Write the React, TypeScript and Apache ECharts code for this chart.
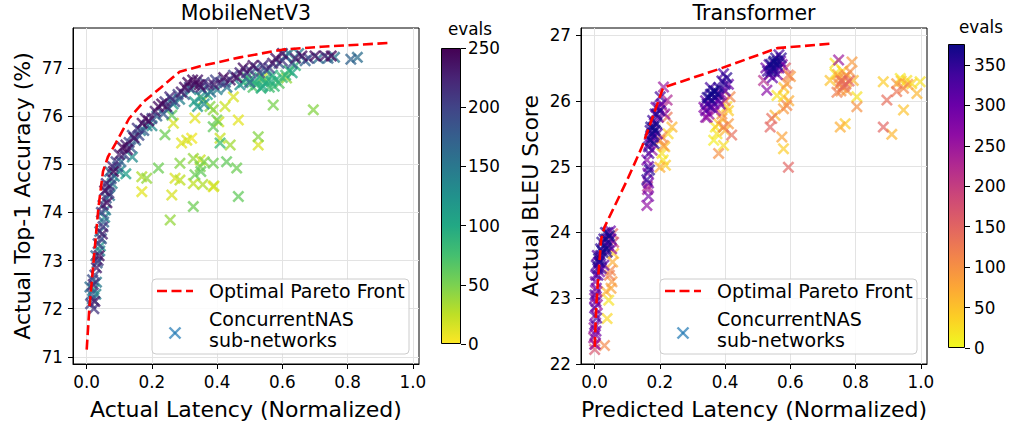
import React, { useEffect, useRef } from 'react';
import * as echarts from 'echarts';

// ---------- Data ----------
const xTicks = [0, 0.2, 0.4, 0.6, 0.8, 1.0];
const mbYTicks = [71, 72, 73, 74, 75, 76, 77];
const trYTicks = [22, 23, 24, 25, 26, 27];
const mbBarTicks = [0, 50, 100, 150, 200, 250];
const trBarTicks = [0, 50, 100, 150, 200, 250, 300, 350];
const mbEvalMax = 250;
const trEvalMax = 376;

// MobileNetV3: optimal pareto front [latency, accuracy]
const mbFront = [
  [0, 71.15], [0.008, 72.0], [0.02, 72.9], [0.036, 74.1], [0.05, 74.85], [0.065, 75.15],
  [0.09, 75.45], [0.13, 75.95], [0.175, 76.3], [0.225, 76.58], [0.285, 76.92], [0.35, 77.04],
  [0.47, 77.22], [0.6, 77.38], [0.72, 77.44], [0.93, 77.52],
];

// MobileNetV3 sub-networks [latency, accuracy, evals]
const mbBand = [
  [0.012, 72.1, 200], [0.018, 72.2, 150], [0.015, 72.3, 180], [0.022, 72.4, 120], [0.02, 72.5, 220],
  [0.025, 72.15, 230], [0.01, 72.45, 160], [0.028, 72.3, 140], [0.025, 72.7, 200], [0.03, 72.85, 230],
  [0.035, 73.0, 210], [0.028, 73.1, 170], [0.04, 73.2, 140], [0.035, 73.35, 200], [0.045, 73.45, 190],
  [0.04, 73.6, 160], [0.05, 73.7, 210], [0.055, 73.9, 130], [0.045, 74.0, 200], [0.05, 74.15, 220],
  [0.06, 74.3, 180], [0.055, 74.45, 240], [0.065, 74.5, 200], [0.07, 74.35, 150], [0.06, 74.6, 230],
  [0.075, 74.7, 190], [0.07, 74.85, 160], [0.08, 74.95, 220], [0.09, 75.05, 200], [0.085, 74.75, 140],
  [0.1, 74.85, 130], [0.12, 74.8, 110], [0.1, 75.2, 230], [0.11, 75.35, 245], [0.125, 75.3, 240],
  [0.13, 75.45, 200], [0.14, 75.15, 130], [0.15, 75.5, 170], [0.14, 75.6, 190], [0.155, 75.75, 210],
  [0.17, 75.85, 240], [0.18, 75.95, 235], [0.165, 75.7, 150], [0.185, 75.8, 140], [0.2, 75.95, 200],
  [0.21, 76.1, 230], [0.22, 76.2, 240], [0.235, 76.05, 180], [0.24, 76.3, 210], [0.255, 76.4, 220],
  [0.25, 76.15, 150], [0.27, 76.3, 190], [0.28, 76.45, 200], [0.29, 76.5, 230], [0.3, 76.6, 240],
  [0.31, 76.7, 245], [0.33, 76.65, 240], [0.34, 76.75, 235], [0.32, 76.55, 130], [0.35, 76.6, 220],
  [0.36, 76.7, 200], [0.33, 76.3, 110], [0.35, 76.4, 120], [0.37, 76.45, 100], [0.34, 76.2, 115],
  [0.36, 76.25, 130], [0.38, 76.5, 160], [0.39, 76.65, 230], [0.41, 76.7, 210], [0.42, 76.8, 240],
  [0.43, 76.6, 150], [0.44, 76.75, 230], [0.45, 76.85, 200], [0.47, 76.9, 220], [0.48, 77.0, 240],
  [0.5, 76.95, 210], [0.52, 77.0, 180], [0.54, 77.05, 220], [0.55, 76.95, 160], [0.57, 77.1, 230],
  [0.58, 77.2, 240], [0.6, 77.15, 210], [0.61, 77.25, 160], [0.62, 77.3, 140], [0.64, 77.2, 230],
  [0.66, 77.25, 240], [0.63, 77.1, 180], [0.68, 77.2, 200], [0.71, 77.2, 160], [0.73, 77.25, 230],
  [0.74, 77.2, 170], [0.76, 77.22, 150], [0.81, 77.18, 170], [0.83, 77.22, 160], [0.5, 76.7, 170],
  [0.47, 76.65, 130],
  [0.018, 72.6, 190], [0.022, 72.0, 210], [0.03, 72.55, 150], [0.032, 72.95, 180], [0.038, 73.1, 240],
  [0.042, 73.3, 120], [0.048, 73.55, 230], [0.052, 73.8, 170], [0.058, 74.05, 150], [0.062, 74.2, 240],
  [0.068, 74.4, 210], [0.072, 74.55, 170], [0.078, 74.6, 140], [0.082, 74.85, 245], [0.095, 74.95, 180],
  [0.105, 75.05, 160], [0.115, 75.2, 200], [0.12, 75.4, 230], [0.135, 75.35, 180], [0.145, 75.55, 240],
  [0.16, 75.6, 200], [0.175, 75.7, 180], [0.19, 75.9, 245], [0.2, 75.8, 130], [0.215, 76.0, 170],
  [0.23, 76.25, 245], [0.245, 76.2, 230], [0.26, 76.35, 170], [0.265, 76.25, 120], [0.285, 76.35, 140],
  [0.3, 76.45, 180], [0.315, 76.6, 200], [0.325, 76.75, 245], [0.345, 76.65, 245], [0.355, 76.55, 160],
  [0.375, 76.65, 220], [0.395, 76.75, 200], [0.4, 76.55, 140], [0.425, 76.7, 190], [0.46, 76.8, 240],
  [0.49, 76.9, 200], [0.51, 77.05, 240], [0.53, 76.9, 190], [0.56, 77.0, 200], [0.59, 77.1, 180],
  [0.6, 77.3, 240], [0.65, 77.3, 150], [0.67, 77.15, 170], [0.7, 77.25, 240], [0.75, 77.25, 245],
];
const mbCluster = [
  [0.48, 76.7, 85], [0.5, 76.75, 90], [0.52, 76.65, 80], [0.53, 76.8, 95], [0.55, 76.7, 85],
  [0.56, 76.6, 75], [0.58, 76.75, 90], [0.6, 76.8, 80], [0.51, 76.6, 70], [0.54, 76.62, 100],
  [0.57, 76.85, 95], [0.59, 76.68, 65], [0.62, 76.95, 85], [0.64, 77.05, 90],
  [0.49, 76.8, 75], [0.515, 76.72, 88], [0.535, 76.58, 92], [0.545, 76.75, 70], [0.565, 76.72, 95],
  [0.575, 76.62, 82], [0.61, 76.85, 78], [0.63, 76.9, 100],
];
const mbSparse = [
  [0.256, 73.84, 40], [0.327, 74.12, 55], [0.169, 74.43, 10], [0.261, 74.36, 15], [0.356, 74.58, 30],
  [0.388, 74.53, 10], [0.465, 74.33, 60], [0.169, 74.74, 30], [0.184, 74.71, 40], [0.22, 74.92, 55],
  [0.286, 75.02, 45], [0.286, 74.67, 25], [0.271, 74.71, 15], [0.327, 75.12, 40], [0.348, 75.09, 20],
  [0.332, 74.78, 55], [0.348, 74.95, 50], [0.388, 75.02, 55], [0.429, 75.05, 60], [0.46, 74.92, 55],
  [0.327, 74.6, 25], [0.291, 75.44, 10], [0.307, 75.5, 15], [0.322, 75.54, 5], [0.24, 75.61, 55],
  [0.409, 75.44, 80], [0.44, 75.4, 35], [0.409, 75.54, 20], [0.526, 75.4, 15], [0.526, 75.57, 45],
  [0.465, 75.92, 10], [0.332, 75.96, 10], [0.388, 75.78, 60], [0.399, 75.92, 55], [0.405, 75.88, 20],
  [0.266, 75.85, 15], [0.261, 76.02, 60], [0.388, 76.13, 40], [0.378, 76.2, 45], [0.424, 76.2, 20],
  [0.45, 76.4, 15], [0.572, 76.23, 50], [0.695, 76.13, 45], [0.358, 76.34, 25], [0.54, 76.8, 20],
  [0.613, 76.79, 40], [0.36, 75.05, 45], [0.35, 74.85, 60], [0.39, 74.55, 20],
];

// Transformer: optimal pareto front [predicted latency, BLEU]
const trFront = [
  [0, 22.26], [0.005, 22.9], [0.012, 23.4], [0.02, 23.9], [0.03, 24.08], [0.1, 24.8],
  [0.145, 25.3], [0.21, 26.2], [0.38, 26.48], [0.56, 26.8], [0.73, 26.87],
];

// Transformer sub-networks [predicted latency, BLEU, evals]
const trGroupA = [
  [0.0, 22.3, 260], [0.002, 22.45, 280], [0.0, 22.6, 300], [0.003, 22.75, 270], [0.0, 22.85, 310],
  [0.004, 22.95, 290], [0.001, 23.05, 320], [0.005, 23.15, 300], [0.002, 23.25, 280], [-0.002, 22.55, 250],
  [0.006, 22.7, 330], [0.003, 23.35, 310], [0.008, 22.9, 260], [0.007, 23.1, 240],
  [0.0, 22.22, 170], [0.002, 22.3, 200], [0.03, 22.28, 110],
  [0.01, 23.45, 350], [0.015, 23.55, 360], [0.02, 23.6, 340], [0.008, 23.65, 320], [0.025, 23.7, 370],
  [0.018, 23.75, 355], [0.03, 23.8, 345], [0.012, 23.55, 300], [0.035, 23.9, 365], [0.04, 24.0, 330],
  [0.045, 23.95, 375], [0.028, 23.5, 310], [0.022, 23.85, 360], [0.05, 23.9, 320], [0.038, 23.7, 350],
  [0.048, 24.02, 300], [0.033, 24.0, 355], [0.015, 23.4, 280], [0.005, 23.5, 340], [0.042, 23.8, 290],
  [0.02, 23.45, 330], [0.052, 23.75, 260],
  [0.012, 23.6, 370], [0.018, 23.65, 335], [0.028, 23.9, 350], [0.035, 23.75, 375], [0.043, 23.85, 340],
  [0.01, 23.35, 325], [0.0, 23.0, 270], [0.004, 22.5, 290], [-0.003, 22.4, 230],
  [0.048, 23.42, 110], [0.053, 23.25, 90], [0.043, 22.97, 20], [0.038, 22.69, 30], [0.058, 23.68, 40],
  [0.055, 23.55, 70], [0.045, 23.35, 120], [0.05, 23.15, 80], [0.035, 23.1, 60], [0.055, 23.98, 150],
  [0.058, 23.85, 180],
];
const trGroupB = [
  [0.16, 24.41, 260], [0.162, 24.65, 240], [0.165, 24.75, 300], [0.16, 24.8, 350], [0.163, 24.9, 280],
  [0.165, 25.0, 310], [0.16, 25.1, 270], [0.166, 25.2, 330], [0.162, 24.7, 220],
  [0.165, 25.3, 340], [0.17, 25.4, 370], [0.175, 25.5, 355], [0.18, 25.45, 320], [0.172, 25.6, 365],
  [0.185, 25.55, 375], [0.178, 25.7, 345], [0.19, 25.65, 360], [0.185, 25.8, 330], [0.195, 25.75, 290],
  [0.2, 25.85, 350], [0.188, 25.9, 300], [0.205, 25.95, 270], [0.201, 26.06, 340], [0.211, 26.21, 250],
  [0.222, 26.01, 230], [0.215, 25.8, 260], [0.168, 25.35, 290], [0.176, 25.25, 250], [0.192, 25.5, 310],
  [0.21, 25.9, 220], [0.182, 25.35, 360],
  [0.17, 25.55, 350], [0.18, 25.6, 372], [0.178, 25.5, 340], [0.19, 25.8, 360], [0.195, 25.9, 320],
  [0.172, 25.45, 300], [0.183, 25.65, 280], [0.168, 24.95, 360], [0.165, 24.55, 290],
  [0.237, 25.6, 60], [0.206, 25.45, 110], [0.211, 25.32, 90], [0.206, 25.2, 20], [0.217, 25.02, 40],
  [0.2, 24.99, 70], [0.222, 25.75, 130], [0.215, 25.3, 50], [0.2, 25.4, 100], [0.225, 25.5, 30],
  [0.21, 25.1, 15],
];
const trGroupC = [
  [0.34, 25.85, 300], [0.345, 25.95, 340], [0.35, 26.05, 370], [0.355, 26.1, 360], [0.36, 26.0, 350],
  [0.365, 26.15, 375], [0.37, 26.05, 330], [0.375, 26.1, 365], [0.38, 26.2, 355], [0.385, 25.95, 300],
  [0.35, 25.8, 260], [0.36, 25.9, 280], [0.37, 25.85, 250], [0.335, 25.9, 270], [0.34, 26.0, 310],
  [0.39, 26.3, 345], [0.395, 26.41, 330], [0.405, 26.35, 360], [0.41, 26.25, 300], [0.4, 26.15, 320],
  [0.345, 25.75, 240], [0.355, 26.2, 335], [0.38, 26.0, 290], [0.39, 26.1, 250],
  [0.345, 26.05, 355], [0.36, 26.1, 372], [0.37, 26.15, 345], [0.365, 25.95, 300], [0.355, 25.9, 330],
  [0.38, 26.1, 340], [0.4, 26.25, 350], [0.35, 25.95, 240], [0.34, 25.75, 270],
  [0.38, 25.2, 100], [0.395, 25.32, 25], [0.375, 25.5, 20], [0.42, 25.48, 140], [0.41, 25.65, 90],
  [0.39, 25.73, 80], [0.415, 26.06, 110], [0.405, 25.91, 30], [0.37, 25.6, 15], [0.39, 25.8, 100],
  [0.4, 25.55, 60], [0.38, 25.65, 45], [0.4, 26.0, 130], [0.41, 25.85, 40], [0.395, 25.6, 120],
  [0.365, 25.4, 10],
];
const trGroupD = [
  [0.53, 26.45, 340], [0.54, 26.55, 370], [0.545, 26.5, 360], [0.55, 26.6, 375], [0.555, 26.65, 350],
  [0.56, 26.55, 365], [0.535, 26.4, 320], [0.565, 26.7, 330], [0.57, 26.6, 300], [0.55, 26.45, 345],
  [0.525, 26.5, 290], [0.545, 26.35, 310], [0.56, 26.4, 280], [0.575, 26.55, 260],
  [0.54, 26.45, 365], [0.548, 26.58, 350], [0.56, 26.6, 372], [0.535, 26.55, 330], [0.552, 26.5, 340],
  [0.565, 26.5, 300], [0.572, 26.65, 355],
  [0.528, 26.16, 270], [0.518, 26.31, 220],
  [0.594, 26.39, 120], [0.585, 26.5, 160], [0.589, 26.26, 100], [0.559, 26.08, 20], [0.579, 26.06, 30],
  [0.579, 25.88, 90], [0.589, 25.93, 110], [0.553, 25.78, 60], [0.543, 25.73, 140], [0.538, 25.6, 150],
  [0.574, 25.45, 80], [0.579, 25.27, 40], [0.594, 24.99, 150], [0.6, 26.37, 90], [0.58, 26.2, 50],
  [0.595, 26.0, 70],
];
const trGroupE = [
  [0.748, 26.62, 250], [0.737, 26.57, 20], [0.789, 26.59, 90], [0.722, 26.31, 50], [0.737, 26.41, 15],
  [0.75, 26.25, 110], [0.755, 26.3, 130], [0.76, 26.2, 100], [0.765, 26.35, 90], [0.77, 26.25, 140],
  [0.783, 26.44, 100], [0.793, 26.31, 60], [0.743, 26.13, 120], [0.773, 26.16, 80], [0.804, 26.06, 20],
  [0.804, 25.91, 100], [0.753, 25.6, 70], [0.768, 25.65, 40], [0.745, 26.4, 60], [0.76, 26.45, 30],
  [0.78, 26.3, 150], [0.755, 26.15, 100],
  [0.76, 26.3, 120], [0.75, 26.35, 80], [0.765, 26.22, 140], [0.772, 26.38, 110],
];
const trGroupF = [
  [0.885, 26.29, 40], [0.896, 26.01, 140], [0.885, 25.6, 150], [0.911, 25.49, 60], [0.926, 26.26, 90],
  [0.937, 26.34, 15], [0.957, 26.31, 20], [0.947, 26.19, 110], [0.926, 26.14, 130], [0.947, 25.86, 50],
  [0.988, 26.11, 60], [0.998, 26.29, 20], [0.972, 26.26, 30], [0.96, 26.25, 80], [0.94, 26.3, 40],
];

// colormaps
const viridisR = ['#fde725', '#bddf26', '#7ad151', '#44bf70', '#22a884', '#21918c', '#2a788e', '#355f8d', '#414487', '#482475', '#440154'];
const plasmaR = ['#f0f921', '#fcce25', '#fca636', '#f2844b', '#e16462', '#cc4778', '#b12a90', '#8f0da4', '#6a00a8', '#41049d', '#0d0887'];

const FONT = '"DejaVu Sans", "Noto Sans", sans-serif';
const XPATH = 'path://M1.5,0L5,3.5L8.5,0L10,1.5L6.5,5L10,8.5L8.5,10L5,6.5L1.5,10L0,8.5L3.5,5L0,1.5Z';

function gradient(colors: string[]) {
  return new echarts.graphic.LinearGradient(0, 1, 0, 0,
    colors.map((c, i) => ({ offset: i / (colors.length - 1), color: c })));
}

function legendGraphics(bx: number) {
  return [
    { type: 'rect', shape: { x: bx, y: 279, width: 257, height: 75, r: 4 },
      style: { fill: 'rgba(255,255,255,0.85)', stroke: '#cccccc', lineWidth: 1 }, z: 100 },
    { type: 'line', shape: { x1: bx + 5, y1: 291, x2: bx + 41, y2: 291 },
      style: { stroke: '#ff0000', lineWidth: 2.6, lineDash: [10, 4.5] }, z: 101 },
    { type: 'text', x: bx + 57, y: 291,
      style: { text: 'Optimal Pareto Front', font: `19px ${FONT}`, fill: '#000', align: 'left', verticalAlign: 'middle', textAlign: 'left', textVerticalAlign: 'middle' }, z: 101 },
    { type: 'text', x: bx + 57, y: 319,
      style: { text: 'ConcurrentNAS', font: `19px ${FONT}`, fill: '#000', align: 'left', verticalAlign: 'middle', textAlign: 'left', textVerticalAlign: 'middle' }, z: 101 },
    { type: 'text', x: bx + 57, y: 340,
      style: { text: 'sub-networks', font: `19px ${FONT}`, fill: '#000', align: 'left', verticalAlign: 'middle', textAlign: 'left', textVerticalAlign: 'middle' }, z: 101 },
    { type: 'line', shape: { x1: bx + 17.5, y1: 327.5, x2: bx + 28.5, y2: 338.5 },
      style: { stroke: '#1f77b4', lineWidth: 2.4, opacity: 0.7 }, z: 101 },
    { type: 'line', shape: { x1: bx + 17.5, y1: 338.5, x2: bx + 28.5, y2: 327.5 },
      style: { stroke: '#1f77b4', lineWidth: 2.4, opacity: 0.7 }, z: 101 },
  ];
}

function textEl(x: number, y: number, text: string, size: number) {
  return { type: 'text', x, y, style: { text, font: `${size}px ${FONT}`, fill: '#000', align: 'center', verticalAlign: 'middle', textAlign: 'center', textVerticalAlign: 'middle' } };
}

const axisCommon = {
  axisLine: { show: true, onZero: false, lineStyle: { color: '#000', width: 1 } },
  axisTick: { show: true, length: 5, lineStyle: { color: '#000', width: 1 } },
  splitLine: { show: true, lineStyle: { color: '#e3e3e3', width: 1 } },
};

export default function App() {
  const ref = useRef<HTMLDivElement>(null);
  useEffect(() => {
    if (!ref.current) return;
    const chart = echarts.init(ref.current, undefined, { renderer: 'svg' });
    const mbPoints = [...mbSparse, ...mbCluster, ...mbBand].sort((a, b) => a[2] - b[2]);
    const trPoints = [...trGroupA, ...trGroupB, ...trGroupC, ...trGroupD, ...trGroupE, ...trGroupF].sort((a, b) => a[2] - b[2]);

    const xAxisFor = (grid: number, name: string) => ({
      gridIndex: grid, type: 'value', min: -0.042, max: 1.019,
      ...axisCommon,
      axisTick: { ...axisCommon.axisTick, customValues: xTicks },
      axisLabel: { customValues: xTicks, formatter: (v: number) => v.toFixed(1), fontSize: 16.8, fontFamily: FONT, color: '#000', margin: 9 },
      name, nameLocation: 'middle', nameGap: 34,
      nameTextStyle: { fontSize: 22, fontFamily: FONT, color: '#000' },
    });
    const yAxisFor = (grid: number, min: number, max: number, ticks: number[], name: string) => ({
      gridIndex: grid, type: 'value', min, max,
      ...axisCommon,
      axisTick: { ...axisCommon.axisTick, customValues: ticks },
      axisLabel: { customValues: ticks, fontSize: 16.8, fontFamily: FONT, color: '#000', margin: 10 },
      name, nameLocation: 'middle', nameGap: 40,
      nameTextStyle: { fontSize: 22, fontFamily: FONT, color: '#000' },
    });

    chart.setOption({
      animation: false,
      backgroundColor: '#fff',
      grid: [
        { left: 73, top: 28, width: 346, height: 336, show: true, borderColor: '#000', borderWidth: 1 },
        { left: 581, top: 28, width: 346, height: 336, show: true, borderColor: '#000', borderWidth: 1 },
        { left: 441, top: 48, width: 20, height: 296 },
        { left: 948, top: 44, width: 17, height: 304 },
      ],
      xAxis: [
        xAxisFor(0, 'Actual Latency (Normalized)'),
        xAxisFor(1, 'Predicted Latency (Normalized)'),
        { gridIndex: 2, type: 'category', data: ['c'], show: false },
        { gridIndex: 3, type: 'category', data: ['c'], show: false },
      ],
      yAxis: [
        yAxisFor(0, 70.85, 77.83, mbYTicks, 'Actual Top-1 Accuracy (%)'),
        yAxisFor(1, 22, 27.106, trYTicks, 'Actual BLEU Score'),
        { gridIndex: 2, type: 'value', min: 0, max: mbEvalMax, position: 'right',
          axisLine: { show: false }, splitLine: { show: false },
          axisTick: { show: true, length: 5, customValues: mbBarTicks, lineStyle: { color: '#000' } },
          axisLabel: { customValues: mbBarTicks, fontSize: 16.8, fontFamily: FONT, color: '#000', margin: 7 } },
        { gridIndex: 3, type: 'value', min: 0, max: trEvalMax, position: 'right',
          axisLine: { show: false }, splitLine: { show: false },
          axisTick: { show: true, length: 5, customValues: trBarTicks, lineStyle: { color: '#000' } },
          axisLabel: { customValues: trBarTicks, fontSize: 16.8, fontFamily: FONT, color: '#000', margin: 9 } },
      ],
      visualMap: [
        { type: 'continuous', show: false, seriesIndex: 0, dimension: 2, min: 0, max: mbEvalMax, inRange: { color: viridisR } },
        { type: 'continuous', show: false, seriesIndex: 2, dimension: 2, min: 0, max: trEvalMax, inRange: { color: plasmaR } },
      ],
      series: [
        { type: 'scatter', xAxisIndex: 0, yAxisIndex: 0, data: mbPoints, symbol: XPATH, symbolSize: 12,
          itemStyle: { opacity: 0.75 }, z: 2 },
        { type: 'line', xAxisIndex: 0, yAxisIndex: 0, data: mbFront, symbol: 'none', showSymbol: false,
          lineStyle: { color: '#ff0000', width: 2.6, type: [10, 4.5] }, z: 3 },
        { type: 'scatter', xAxisIndex: 1, yAxisIndex: 1, data: trPoints, symbol: XPATH, symbolSize: 12,
          itemStyle: { opacity: 0.68 }, z: 2 },
        { type: 'line', xAxisIndex: 1, yAxisIndex: 1, data: trFront, symbol: 'none', showSymbol: false,
          lineStyle: { color: '#ff0000', width: 2.6, type: [10, 4.5] }, z: 3 },
        { type: 'bar', xAxisIndex: 2, yAxisIndex: 2, data: [mbEvalMax], barWidth: '100%',
          itemStyle: { color: gradient(viridisR), borderColor: '#000', borderWidth: 1 } },
        { type: 'bar', xAxisIndex: 3, yAxisIndex: 3, data: [trEvalMax], barWidth: '100%',
          itemStyle: { color: gradient(plasmaR), borderColor: '#000', borderWidth: 1 } },
      ],
      graphic: [
        textEl(246, 13, 'MobileNetV3', 20.5),
        textEl(754, 13, 'Transformer', 20.5),
        textEl(470, 29, 'evals', 16.8),
        textEl(981, 27, 'evals', 16.8),
        ...legendGraphics(152),
        ...legendGraphics(660),
      ],
    });
    return () => chart.dispose();
  }, []);
  return <div ref={ref} style={{ position: 'fixed', left: 0, top: 0, width: 1011, height: 427, background: '#fff' }} />;
}
